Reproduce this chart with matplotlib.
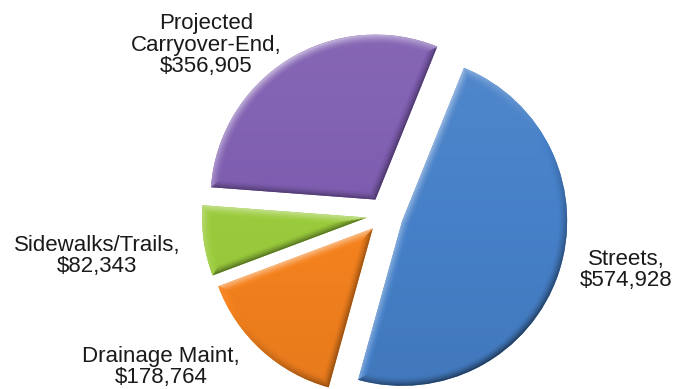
import numpy as np
import matplotlib
matplotlib.use("Agg")
import matplotlib.pyplot as plt
from matplotlib.colors import to_rgb

# budget split
labels = ["Streets", "Drainage Maint", "Sidewalks/Trails", "Projected\nCarryover-End"]
amounts = [574928, 178764, 82343, 356905]
colors = ["#4680C8", "#F5821E", "#9ACB3C", "#7E5DB0"]

# label spots (data units, pie radius = 1)
label_xy = [(1.461, -0.333), (-1.358, -0.921), (-1.745, -0.248), (-1.085, 1.030)]

plt.rcParams["font.family"] = ["Liberation Sans", "DejaVu Sans"]

fig = plt.figure(figsize=(6.8, 3.89), dpi=100)
ax = fig.add_axes([0, 0, 1, 1])

R_PX = 165.0
ax.set_xlim(-385 / R_PX, (680 - 385) / R_PX)
ax.set_ylim(-(389 - 215) / R_PX, 215 / R_PX)
ax.axis("off")

wedges, _ = ax.pie(amounts, colors=colors, startangle=68, counterclock=False,
                   explode=[0.11] * 4, radius=1.0,
                   wedgeprops=dict(linewidth=0))


def bevel(w, base, width=0.055, n=500):
    # shaded overlay for one wedge: lit from upper left, darker rims
    cx, cy = w.center
    r = w.r
    t1, t2 = np.deg2rad(w.theta1), np.deg2rad(w.theta2)
    xs = np.linspace(cx - r, cx + r, n)
    ys = np.linspace(cy - r, cy + r, n)
    X, Y = np.meshgrid(xs, ys)
    px, py = X - cx, Y - cy
    rho = np.hypot(px, py)
    phi = np.arctan2(py, px)

    d_arc = r - rho
    n_arc = np.stack([np.cos(phi), np.sin(phi)])
    d1 = np.abs(np.cos(t1) * py - np.sin(t1) * px)
    n1 = np.array([np.sin(t1), -np.cos(t1)])[:, None, None] * np.ones_like(X)
    d2 = np.abs(np.cos(t2) * py - np.sin(t2) * px)
    n2 = np.array([-np.sin(t2), np.cos(t2)])[:, None, None] * np.ones_like(X)

    d = np.stack([d_arc, d1, d2])
    idx = np.argmin(d, axis=0)
    dmin = np.min(d, axis=0)
    nx = np.choose(idx, [n_arc[0], n1[0], n2[0]])
    ny = np.choose(idx, [n_arc[1], n1[1], n2[1]])

    s = np.clip(1 - dmin / width, 0, 1) ** 1.6
    light = nx * -0.55 + ny * 0.83
    shade = s * light * 0.5
    # gentle overall darkening towards the lower part
    shade += -0.06 * (cy - Y) / r

    rgb = np.array(to_rgb(base))[None, None, :] * np.ones(X.shape + (3,))
    pos = np.clip(shade, 0, None)[..., None]
    neg = np.clip(-shade, 0, None)[..., None]
    rgb = rgb + (1 - rgb) * pos
    rgb = rgb * (1 - neg)
    img = ax.imshow(np.clip(rgb, 0, 1), extent=(xs[0], xs[-1], ys[0], ys[-1]),
                    origin="lower", interpolation="bilinear", zorder=2)
    img.set_clip_path(w)


for w, c in zip(wedges, colors):
    bevel(w, c)

for lab, amt, (x, y) in zip(labels, amounts, label_xy):
    ax.text(x, y, f"{lab},\n${amt:,}", ha="center", va="center",
            fontsize=16, color="#1a1a1a", linespacing=1.05, zorder=5)

ax.set_xlim(-385 / R_PX, (680 - 385) / R_PX)
ax.set_ylim(-(389 - 215) / R_PX, 215 / R_PX)
ax.set_aspect("auto")

fig.savefig("out.png", dpi=100, facecolor="white")
